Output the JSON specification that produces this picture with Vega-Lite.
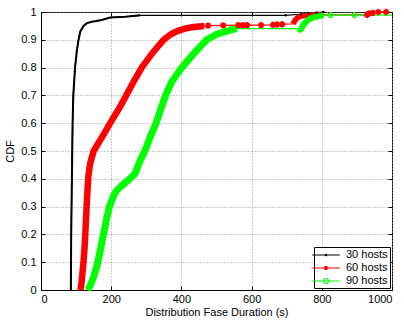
{
  "$schema": "https://vega.github.io/schema/vega-lite/v6.json",
  "width": 351,
  "height": 278,
  "autosize": {"type": "none"},
  "padding": {"left": 41, "top": 12, "right": 12, "bottom": 30},
  "background": "white",
  "config": {
    "font": "Liberation Sans",
    "view": {"stroke": "black", "strokeWidth": 1},
    "axis": {
      "domainColor": "black",
      "tickColor": "black",
      "labelColor": "black",
      "titleColor": "black",
      "labelFontSize": 11,
      "titleFontSize": 11,
      "titleFontWeight": "normal",
      "labelFont": "Liberation Sans",
      "titleFont": "Liberation Sans",
      "gridColor": "#999999",
      "gridDash": [1, 2],
      "gridOpacity": 1,
      "tickSize": -4
    }
  },
  "datasets": {
    "cdf": [
      {"series": "30 hosts", "x": 85, "y": 0},
      {"series": "30 hosts", "x": 86, "y": 0.2},
      {"series": "30 hosts", "x": 88, "y": 0.4},
      {"series": "30 hosts", "x": 90, "y": 0.6},
      {"series": "30 hosts", "x": 92, "y": 0.7},
      {"series": "30 hosts", "x": 97, "y": 0.8},
      {"series": "30 hosts", "x": 102, "y": 0.86},
      {"series": "30 hosts", "x": 107, "y": 0.9},
      {"series": "30 hosts", "x": 112, "y": 0.93},
      {"series": "30 hosts", "x": 121, "y": 0.95},
      {"series": "30 hosts", "x": 131, "y": 0.96},
      {"series": "30 hosts", "x": 145, "y": 0.965},
      {"series": "30 hosts", "x": 169, "y": 0.97},
      {"series": "30 hosts", "x": 185, "y": 0.976},
      {"series": "30 hosts", "x": 197, "y": 0.98},
      {"series": "30 hosts", "x": 240, "y": 0.983},
      {"series": "30 hosts", "x": 283, "y": 0.988},
      {"series": "30 hosts", "x": 697, "y": 0.988},
      {"series": "30 hosts", "x": 740, "y": 0.992},
      {"series": "30 hosts", "x": 762, "y": 0.996},
      {"series": "30 hosts", "x": 785, "y": 0.998},
      {"series": "30 hosts", "x": 805, "y": 1.0},
      {"series": "60 hosts", "x": 112, "y": 0},
      {"series": "60 hosts", "x": 115, "y": 0.02},
      {"series": "60 hosts", "x": 118, "y": 0.06},
      {"series": "60 hosts", "x": 121, "y": 0.1},
      {"series": "60 hosts", "x": 124, "y": 0.15},
      {"series": "60 hosts", "x": 127, "y": 0.22},
      {"series": "60 hosts", "x": 130, "y": 0.3},
      {"series": "60 hosts", "x": 133, "y": 0.37},
      {"series": "60 hosts", "x": 135, "y": 0.41},
      {"series": "60 hosts", "x": 140, "y": 0.455},
      {"series": "60 hosts", "x": 150, "y": 0.5},
      {"series": "60 hosts", "x": 162, "y": 0.525},
      {"series": "60 hosts", "x": 174, "y": 0.55},
      {"series": "60 hosts", "x": 197, "y": 0.6},
      {"series": "60 hosts", "x": 221, "y": 0.65},
      {"series": "60 hosts", "x": 243, "y": 0.7},
      {"series": "60 hosts", "x": 264, "y": 0.75},
      {"series": "60 hosts", "x": 287, "y": 0.8},
      {"series": "60 hosts", "x": 316, "y": 0.85},
      {"series": "60 hosts", "x": 349, "y": 0.9},
      {"series": "60 hosts", "x": 370, "y": 0.92},
      {"series": "60 hosts", "x": 390, "y": 0.932},
      {"series": "60 hosts", "x": 410, "y": 0.94},
      {"series": "60 hosts", "x": 430, "y": 0.945},
      {"series": "60 hosts", "x": 450, "y": 0.948},
      {"series": "60 hosts", "x": 465, "y": 0.95},
      {"series": "60 hosts", "x": 476, "y": 0.951},
      {"series": "60 hosts", "x": 519, "y": 0.952},
      {"series": "60 hosts", "x": 562, "y": 0.953},
      {"series": "60 hosts", "x": 575, "y": 0.953},
      {"series": "60 hosts", "x": 587, "y": 0.953},
      {"series": "60 hosts", "x": 627, "y": 0.953},
      {"series": "60 hosts", "x": 661, "y": 0.954},
      {"series": "60 hosts", "x": 672, "y": 0.955},
      {"series": "60 hosts", "x": 687, "y": 0.956},
      {"series": "60 hosts", "x": 718, "y": 0.957},
      {"series": "60 hosts", "x": 722, "y": 0.966},
      {"series": "60 hosts", "x": 727, "y": 0.975},
      {"series": "60 hosts", "x": 735, "y": 0.983},
      {"series": "60 hosts", "x": 750, "y": 0.987},
      {"series": "60 hosts", "x": 770, "y": 0.989},
      {"series": "60 hosts", "x": 795, "y": 0.99},
      {"series": "60 hosts", "x": 929, "y": 0.99},
      {"series": "60 hosts", "x": 935, "y": 0.995},
      {"series": "60 hosts", "x": 945, "y": 0.997},
      {"series": "60 hosts", "x": 961, "y": 1.0},
      {"series": "60 hosts", "x": 983, "y": 1.0},
      {"series": "90 hosts", "x": 133, "y": 0},
      {"series": "90 hosts", "x": 140, "y": 0.015},
      {"series": "90 hosts", "x": 150, "y": 0.047},
      {"series": "90 hosts", "x": 160, "y": 0.09},
      {"series": "90 hosts", "x": 169, "y": 0.143},
      {"series": "90 hosts", "x": 178, "y": 0.2},
      {"series": "90 hosts", "x": 188, "y": 0.263},
      {"series": "90 hosts", "x": 195, "y": 0.3},
      {"series": "90 hosts", "x": 202, "y": 0.323},
      {"series": "90 hosts", "x": 209, "y": 0.345},
      {"series": "90 hosts", "x": 216, "y": 0.359},
      {"series": "90 hosts", "x": 230, "y": 0.375},
      {"series": "90 hosts", "x": 249, "y": 0.395},
      {"series": "90 hosts", "x": 268, "y": 0.419},
      {"series": "90 hosts", "x": 283, "y": 0.467},
      {"series": "90 hosts", "x": 297, "y": 0.503},
      {"series": "90 hosts", "x": 311, "y": 0.55},
      {"series": "90 hosts", "x": 328, "y": 0.6},
      {"series": "90 hosts", "x": 341, "y": 0.65},
      {"series": "90 hosts", "x": 355, "y": 0.7},
      {"series": "90 hosts", "x": 373, "y": 0.75},
      {"series": "90 hosts", "x": 401, "y": 0.8},
      {"series": "90 hosts", "x": 435, "y": 0.85},
      {"series": "90 hosts", "x": 472, "y": 0.9},
      {"series": "90 hosts", "x": 501, "y": 0.92},
      {"series": "90 hosts", "x": 539, "y": 0.935},
      {"series": "90 hosts", "x": 558, "y": 0.94},
      {"series": "90 hosts", "x": 733, "y": 0.94},
      {"series": "90 hosts", "x": 738, "y": 0.937},
      {"series": "90 hosts", "x": 742, "y": 0.94},
      {"series": "90 hosts", "x": 748, "y": 0.955},
      {"series": "90 hosts", "x": 755, "y": 0.965},
      {"series": "90 hosts", "x": 765, "y": 0.975},
      {"series": "90 hosts", "x": 780, "y": 0.982},
      {"series": "90 hosts", "x": 795, "y": 0.986},
      {"series": "90 hosts", "x": 805, "y": 0.989},
      {"series": "90 hosts", "x": 825, "y": 0.989},
      {"series": "90 hosts", "x": 893, "y": 0.989},
      {"series": "90 hosts", "x": 1000, "y": 0.989}
    ]
  },
  "data": {"name": "cdf"},
  "encoding": {
    "x": {"field": "x", "type": "quantitative", "scale": {"domain": [0, 1000], "nice": false}},
    "y": {"field": "y", "type": "quantitative", "scale": {"domain": [0, 1], "nice": false}}
  },
  "layer": [
    {
      "mark": {"type": "point", "opacity": 0},
      "encoding": {
        "x": {"field": "x", "type": "quantitative", "axis": {"orient": "top", "labels": false, "grid": false, "title": null, "values": [0, 200, 400, 600, 800, 1000], "domain": false}},
        "y": {"field": "y", "type": "quantitative", "axis": {"orient": "right", "labels": false, "grid": false, "title": null, "values": [0, 0.1, 0.2, 0.3, 0.4, 0.5, 0.6, 0.7, 0.8, 0.9, 1], "domain": false}}
      }
    },
    {
      "mark": {"type": "line", "strokeWidth": 1.2},
      "encoding": {
        "x": {"field": "x", "type": "quantitative", "axis": {"values": [0, 200, 400, 600, 800, 1000], "format": "d", "grid": true, "title": "Distribution Fase Duration (s)", "labelPadding": 7, "titlePadding": 2}},
        "y": {"field": "y", "type": "quantitative", "axis": {"values": [0, 0.1, 0.2, 0.3, 0.4, 0.5, 0.6, 0.7, 0.8, 0.9, 1], "format": ".1~f", "grid": true, "title": "CDF", "labelPadding": 9, "titlePadding": 5}},
        "color": {
          "field": "series",
          "type": "nominal",
          "scale": {"domain": ["30 hosts", "60 hosts", "90 hosts"], "range": ["#000000", "#ff0000", "#00ff00"]},
          "legend": {
            "title": null,
            "orient": "bottom-right",
            "offset": 2,
            "padding": 2,
            "strokeColor": "black",
            "fillColor": "white",
            "labelFontSize": 11,
            "labelFont": "Liberation Sans",
            "labelColor": "black",
            "symbolSize": 100,
            "symbolOffset": 4,
            "labelOffset": 14,
            "rowPadding": 2,
            "encode": {
              "symbols": {
                "update": {
                  "shape": {"signal": "datum.value == '30 hosts' ? 'M-2.75,0H2.75M-0.15,0A0.15,0.15 0 1,0 0.15,0A0.15,0.15 0 1,0 -0.15,0' : datum.value == '60 hosts' ? 'M-2.75,0H2.75M-0.4,0H0.4M0,-0.4V0.4M-0.3,-0.3L0.3,0.3M-0.3,0.3L0.3,-0.3' : 'M-2.75,0H2.75M-0.5,0A0.5,0.5 0 1,0 0.5,0A0.5,0.5 0 1,0 -0.5,0'"},
                  "fill": {"value": "transparent"},
                  "fillOpacity": {"value": 0},
                  "strokeWidth": {"value": 1.2},
                  "opacity": {"value": 1}
                }
              }
            }
          }
        }
      }
    },
    {
      "transform": [{"filter": "datum.series == '30 hosts' && datum.x <= 300"}],
      "mark": {"type": "line", "strokeWidth": 2},
      "encoding": {"x": {"field": "x", "type": "quantitative", "axis": null}, "y": {"field": "y", "type": "quantitative", "axis": null}, "color": {"field": "series", "type": "nominal"}}
    },
    {
      "transform": [{"filter": "datum.series == '60 hosts' && datum.x <= 465"}],
      "mark": {"type": "line", "strokeWidth": 6.5},
      "encoding": {"x": {"field": "x", "type": "quantitative", "axis": null}, "y": {"field": "y", "type": "quantitative", "axis": null}, "color": {"field": "series", "type": "nominal"}}
    },
    {
      "transform": [{"filter": "datum.series == '60 hosts' && datum.x >= 718 && datum.x <= 800"}],
      "mark": {"type": "line", "strokeWidth": 5.5},
      "encoding": {"x": {"field": "x", "type": "quantitative", "axis": null}, "y": {"field": "y", "type": "quantitative", "axis": null}, "color": {"field": "series", "type": "nominal"}}
    },
    {
      "transform": [{"filter": "datum.series == '90 hosts' && datum.x <= 560"}],
      "mark": {"type": "line", "strokeWidth": 7},
      "encoding": {"x": {"field": "x", "type": "quantitative", "axis": null}, "y": {"field": "y", "type": "quantitative", "axis": null}, "color": {"field": "series", "type": "nominal"}}
    },
    {
      "transform": [{"filter": "datum.series == '90 hosts' && datum.x >= 733 && datum.x <= 810"}],
      "mark": {"type": "line", "strokeWidth": 6},
      "encoding": {"x": {"field": "x", "type": "quantitative", "axis": null}, "y": {"field": "y", "type": "quantitative", "axis": null}, "color": {"field": "series", "type": "nominal"}}
    },
    {
      "transform": [{"filter": "datum.series == '30 hosts' && datum.x >= 690"}],
      "mark": {"type": "point", "shape": "circle", "filled": true, "size": 6, "opacity": 1},
      "encoding": {"x": {"field": "x", "type": "quantitative", "axis": null}, "y": {"field": "y", "type": "quantitative", "axis": null}, "color": {"field": "series", "type": "nominal"}}
    },
    {
      "transform": [{"filter": "datum.series == '60 hosts' && ((datum.x > 465 && datum.x < 718) || datum.x > 900)"}],
      "mark": {"type": "point", "shape": "M-1,0H1M0,-1V1M-0.7,-0.7L0.7,0.7M-0.7,0.7L0.7,-0.7", "filled": false, "size": 40, "strokeWidth": 1.8, "opacity": 1},
      "encoding": {"x": {"field": "x", "type": "quantitative", "axis": null}, "y": {"field": "y", "type": "quantitative", "axis": null}, "color": {"field": "series", "type": "nominal"}}
    },
    {
      "transform": [{"filter": "datum.series == '90 hosts' && datum.x > 810 && datum.x < 1000"}],
      "mark": {"type": "point", "shape": "circle", "filled": false, "size": 22, "strokeWidth": 1.2, "opacity": 1},
      "encoding": {"x": {"field": "x", "type": "quantitative", "axis": null}, "y": {"field": "y", "type": "quantitative", "axis": null}, "color": {"field": "series", "type": "nominal"}}
    }
  ],
  "resolve": {"axis": {"x": "independent", "y": "independent"}}
}
